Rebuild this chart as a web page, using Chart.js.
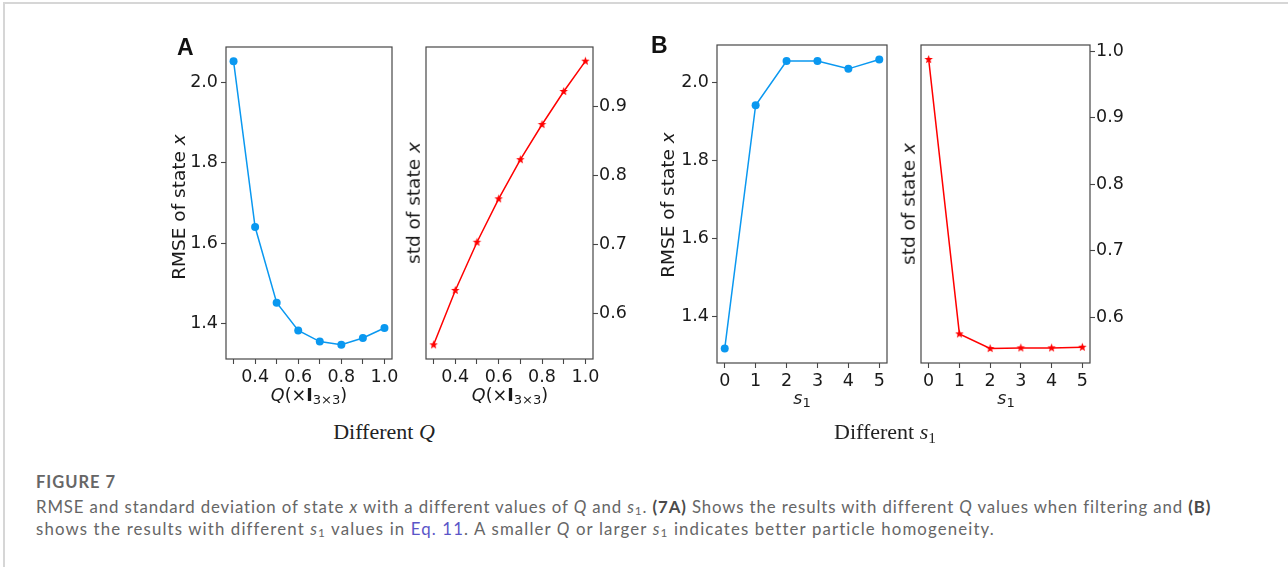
<!DOCTYPE html>
<html>
<head>
<meta charset="utf-8">
<script src="https://cdn.jsdelivr.net/npm/chart.js@4.4.0/dist/chart.umd.min.js"></script>
<style>
  body { margin: 0; background: #fff; width: 1288px; height: 567px; position: relative; overflow: hidden; font-family: "DejaVu Sans", sans-serif; }
  .frame { position: absolute; left: 3px; top: 2px; right: -10px; bottom: -10px; border-top: 2px solid #d6d6d6; border-left: 2px solid #d6d6d6; }
  canvas { position: absolute; }
  .txt { position: absolute; white-space: nowrap; line-height: 1; }
  .ytitle { font-size: 18.5px; color: #1a1a1a; transform: translate(-50%, -50%) rotate(-90deg); }
  .xtitle { font-size: 17.5px; color: #1a1a1a; transform: translateX(-50%); }
  .xtitle sub { font-size: 75%; vertical-align: -0.25em; line-height: 0; }
  .group { font-family: "Liberation Serif", serif; font-size: 22px; color: #222; transform: translateX(-50%); }
  .group sub { font-size: 70%; vertical-align: -0.25em; line-height: 0; font-style: normal; }
  .letter { font-family: "Liberation Sans", sans-serif; font-weight: bold; font-size: 23px; color: #111; }
  .cap { font-family: Lato, sans-serif; color: #666; font-size: 16.8px; line-height: 22px; }
  .cap sub { font-size: 70%; vertical-align: -0.2em; line-height: 0; }
  .cap b { color: #4a4a4a; }
  .fig { font-family: Lato, sans-serif; font-weight: bold; color: #666; font-size: 16.5px; }
  .link { color: #5a55c8; }
</style>
</head>
<body>
<div class="frame"></div>

<canvas id="a1"></canvas>
<canvas id="a2"></canvas>
<canvas id="b1"></canvas>
<canvas id="b2"></canvas>

<div class="txt letter" style="left:177px; top:35.5px;">A</div>
<div class="txt letter" style="left:651px; top:33.5px;">B</div>

<div class="txt ytitle" style="left:179px; top:207px;">RMSE of state <i>x</i></div>
<div class="txt ytitle" style="left:414px; top:203px;">std of state <i>x</i></div>
<div class="txt ytitle" style="left:668px; top:205px;">RMSE of state <i>x</i></div>
<div class="txt ytitle" style="left:909px; top:204px;">std of state <i>x</i></div>

<div class="txt xtitle" style="left:309px; top:387px;"><i>Q</i>(×<b>I</b><sub>3×3</sub>)</div>
<div class="txt xtitle" style="left:510px; top:387px;"><i>Q</i>(×<b>I</b><sub>3×3</sub>)</div>
<div class="txt xtitle" style="left:802px; top:390px;"><i>s</i><sub>1</sub></div>
<div class="txt xtitle" style="left:1006px; top:390px;"><i>s</i><sub>1</sub></div>

<div class="txt group" style="left:384px; top:421px;">Different <i>Q</i></div>
<div class="txt group" style="left:885px; top:421px;">Different <i>s</i><sub>1</sub></div>

<div class="txt fig" id="figTitle" style="left:36px; top:474px;">FIGURE 7</div>
<div class="txt cap" id="cap1" style="left:36px; top:496px;">RMSE and standard deviation of state <i>x</i> with a different values of <i>Q</i> and <i>s</i><sub>1</sub>. <b>(7A)</b> Shows the results with different <i>Q</i> values when filtering and <b>(B)</b></div>
<div class="txt cap" id="cap2" style="left:36px; top:518px;">shows the results with different <i>s</i><sub>1</sub> values in <span class="link">Eq. 11</span>. A smaller <i>Q</i> or larger <i>s</i><sub>1</sub> indicates better particle homogeneity.</div>

<script>
// panel A: different Q
const qValues = [0.3, 0.4, 0.5, 0.6, 0.7, 0.8, 0.9, 1.0];
const rmseQ = [2.054, 1.640, 1.451, 1.382, 1.354, 1.346, 1.363, 1.388];
const stdQ = [0.554, 0.633, 0.703, 0.766, 0.823, 0.874, 0.922, 0.966];

// panel B: different s1
const s1Values = [0, 1, 2, 3, 4, 5];
const rmseS1 = [1.319, 1.941, 2.054, 2.054, 2.034, 2.058];
const stdS1 = [0.988, 0.575, 0.553, 0.554, 0.554, 0.555];

// tick labels
const qTickLabels = [0.4, 0.6, 0.8, 1.0];
const s1TickLabels = [0, 1, 2, 3, 4, 5];
const rmseTicks = [1.4, 1.6, 1.8, 2.0];
const stdQTicks = [0.6, 0.7, 0.8, 0.9];
const stdS1Ticks = [0.6, 0.7, 0.8, 0.9, 1.0];

const BLUE = '#0a98f0';
const RED = '#ff0000';
const AXIS = '#474747';
const TICKFONT = { family: 'DejaVu Sans', size: 17.5 };

function starImage(color, r) {
    const c = document.createElement('canvas');
    const s = Math.ceil(r * 2 + 2);
    c.width = s;
    c.height = s;
    const g = c.getContext('2d');
    g.fillStyle = color;
    g.beginPath();
    for (let i = 0; i < 10; i++) {
        const rad = i % 2 ? r * 0.42 : r;
        const a = -Math.PI / 2 + i * Math.PI / 5;
        g.lineTo(s / 2 + rad * Math.cos(a), s / 2 + rad * Math.sin(a));
    }
    g.closePath();
    g.fill();
    return c;
}

// matplotlib-like 5% margins
function limits(vals) {
    const lo = Math.min(...vals), hi = Math.max(...vals);
    const m = (hi - lo) * 0.05;
    return [lo - m, hi + m];
}

const boxFrame = {
    id: 'boxFrame',
    afterDraw(chart) {
        const a = chart.chartArea, ctx = chart.ctx;
        ctx.save();
        ctx.strokeStyle = AXIS;
        ctx.lineWidth = 1.2;
        ctx.strokeRect(a.left, a.top, a.right - a.left, a.bottom - a.top);
        ctx.restore();
    }
};

const L = 80, R = 70, T = 18, B = 50;

function makePanel(id, box, xs, ys, xLabels, yTicks, tickSide, color, marker) {
    const canvas = document.getElementById(id);
    canvas.width = box.w + L + R;
    canvas.height = box.h + T + B;
    canvas.style.left = (box.l - L) + 'px';
    canvas.style.top = (box.t - T) + 'px';

    const [xmin, xmax] = limits(xs);
    const [ymin, ymax] = limits(ys);
    const leftTicks = tickSide === 'left';

    return new Chart(canvas, {
        type: 'scatter',
        data: {
            datasets: [{
                data: xs.map((x, i) => ({ x: x, y: ys[i] })),
                showLine: true,
                borderColor: color,
                borderWidth: 1.5,
                backgroundColor: color,
                pointStyle: marker,
                pointRadius: 4,
                pointBorderWidth: 0,
                pointBackgroundColor: color,
                clip: false
            }]
        },
        options: {
            responsive: false,
            animation: false,
            layout: { padding: { top: T, bottom: 0, left: leftTicks ? 0 : L, right: leftTicks ? R : 0 } },
            plugins: { legend: { display: false }, tooltip: { enabled: false } },
            scales: {
                x: {
                    type: 'linear',
                    min: xmin,
                    max: xmax,
                    afterBuildTicks: s => { s.ticks = xs.map(v => ({ value: v })); },
                    afterFit: s => { s.height = B; },
                    ticks: {
                        autoSkip: false,
                        maxRotation: 0,
                        padding: 3,
                        color: '#1a1a1a',
                        font: TICKFONT,
                        callback: v => xLabels.includes(v) ? (Number.isInteger(xLabels[0]) ? String(v) : v.toFixed(1)) : ''
                    },
                    grid: { drawOnChartArea: false, drawTicks: true, tickLength: 5, tickWidth: 1.1, tickColor: AXIS },
                    border: { display: false }
                },
                y: {
                    type: 'linear',
                    position: tickSide,
                    min: ymin,
                    max: ymax,
                    afterBuildTicks: s => { s.ticks = yTicks.map(v => ({ value: v })); },
                    afterFit: s => { s.width = leftTicks ? L : R; },
                    ticks: {
                        padding: leftTicks ? 3 : 1,
                        color: '#1a1a1a',
                        font: TICKFONT,
                        callback: v => v.toFixed(1)
                    },
                    grid: { drawOnChartArea: false, drawTicks: true, tickLength: 5, tickWidth: 1.1, tickColor: AXIS },
                    border: { display: false }
                }
            }
        },
        plugins: [boxFrame]
    });
}

const star = starImage(RED, 4.5);

makePanel('a1', { l: 226, t: 47, w: 166, h: 312 }, qValues, rmseQ, qTickLabels, rmseTicks, 'left', BLUE, 'circle');
makePanel('a2', { l: 426, t: 47, w: 167, h: 312 }, qValues, stdQ, qTickLabels, stdQTicks, 'right', RED, star);
makePanel('b1', { l: 717, t: 45, w: 170, h: 318 }, s1Values, rmseS1, s1TickLabels, rmseTicks, 'left', BLUE, 'circle');
makePanel('b2', { l: 921, t: 45, w: 169, h: 318 }, s1Values, stdS1, s1TickLabels, stdS1Ticks, 'right', RED, star);

// spread caption lines so they span the widths they have in the figure
function fitWidth(id, target) {
    const el = document.getElementById(id);
    el.style.letterSpacing = '0px';
    const w = el.getBoundingClientRect().width;
    const n = el.textContent.length;
    el.style.letterSpacing = ((target - w) / n) + 'px';
}
function fitAll() {
    fitWidth('figTitle', 80);
    fitWidth('cap1', 1174);
    fitWidth('cap2', 958);
}
fitAll();
if (document.fonts) document.fonts.ready.then(fitAll);
</script>
</body>
</html>
